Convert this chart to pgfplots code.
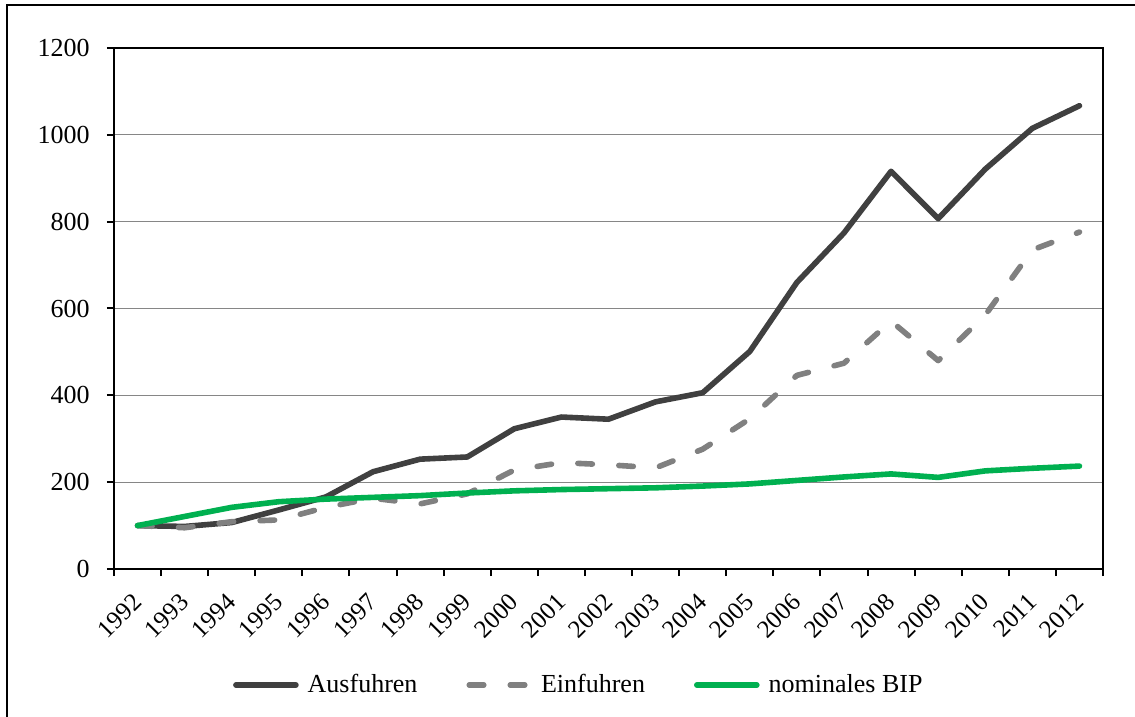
\documentclass[border=0pt]{standalone}
\usepackage{pgfplots}
\pgfplotsset{compat=1.18}
\usepackage{fontspec}
\setmainfont{Liberation Serif}
\definecolor{ausf}{HTML}{404040}
\definecolor{einf}{HTML}{808080}
\definecolor{bip}{HTML}{00B050}
\definecolor{gridc}{HTML}{868686}

\begin{document}
\begin{tikzpicture}[font=\fontsize{13}{15}\selectfont]
\path[use as bounding box] (-57pt,-74pt) rectangle (510.5pt,284.5pt);
% chart frame (cut off at right and bottom)
\draw[line width=1pt] (-53.5pt,-90pt) -- (-53.5pt,282pt) -- (530pt,282pt);
\begin{axis}[
    at={(0pt,0pt)}, anchor=south west,
    scale only axis,
    width=494.5pt, height=260.5pt,
    xmin=-0.5, xmax=20.5,
    ymin=0, ymax=1200,
    ytick={0,200,...,1200},
    % ticks between the categories, labels at the categories
    xtick={-0.5,0.5,...,20.5},
    xticklabels={},
    extra x ticks={0,...,20},
    extra x tick labels={1992,1993,1994,1995,1996,1997,1998,1999,2000,2001,2002,2003,2004,2005,2006,2007,2008,2009,2010,2011,2012},
    extra x tick style={major tick length=0pt},
    xtick pos=bottom, ytick pos=left,
    tick style={black, line width=1pt},
    tick align=outside,
    major tick length=3.5pt,
    ymajorgrids,
    grid style={gridc, line width=0.6pt},
    axis line style={black, line width=1pt},
    /pgf/number format/assume math mode=true,
    /pgf/number format/set thousands separator={},
    tick label style={font=\fontsize{13}{15}\selectfont},
    yticklabel style={anchor=east, inner sep=0pt, xshift=-8.5pt},
    xticklabel style={font=\fontsize{12.5}{15}\selectfont, xshift=0pt, yshift=-14.5pt,
        rotate=45, anchor=east, inner sep=0pt},
    legend style={draw=none, fill=none, at={(0.4735,-0.2227)}, anchor=center,
        legend columns=3, /tikz/every even column/.append style={column sep=20pt},
        inner sep=0pt, nodes={inner xsep=4.5pt, font=\fontsize{13}{15}\selectfont}},
    legend cell align=left,
    legend image code/.code={\draw[#1] (0pt,0pt) -- (30pt,0pt);},
  ]
\addplot[ausf, line width=2.8pt, line cap=round, line join=round] coordinates {
  (0,100) (1,98) (2,107) (3,136) (4,166) (5,224) (6,253) (7,258) (8,323) (9,350)
  (10,345) (11,385) (12,406) (13,501) (14,660) (15,774) (16,916) (17,807) (18,921)
  (19,1015) (20,1067)
};
\addlegendentry{Ausfuhren}
\addplot[einf, line width=2.8pt, line cap=round, line join=round,
         dash pattern=on 7.25pt off 13.25pt] coordinates {
  (0,100) (1,95) (2,109) (3,113) (4,142) (5,163) (6,150) (7,173) (8,228) (9,245)
  (10,240) (11,233) (12,276) (13,346) (14,446) (15,474) (16,571) (17,480) (18,585)
  (19,735) (20,776)
};
\addlegendentry{Einfuhren}
\addplot[bip, line width=2.8pt, line cap=round, line join=round] coordinates {
  (0,100) (1,121) (2,142) (3,155) (4,161) (5,165) (6,169) (7,175) (8,180) (9,183)
  (10,185) (11,187) (12,191) (13,196) (14,204) (15,212) (16,219) (17,211) (18,226)
  (19,232) (20,237)
};
\addlegendentry{nominales BIP}
\end{axis}
\end{tikzpicture}
\end{document}
